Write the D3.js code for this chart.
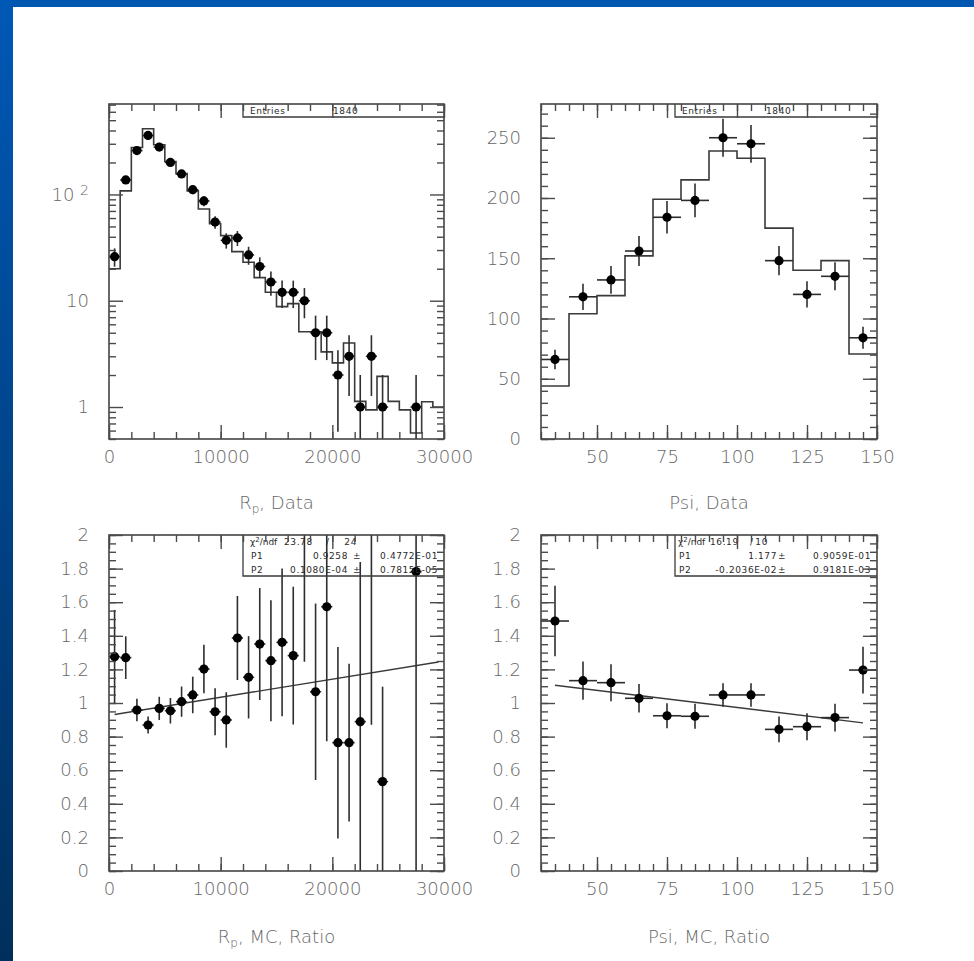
<!DOCTYPE html>
<html>
<head>
<meta charset="utf-8">
<script src="https://cdn.jsdelivr.net/npm/d3@7"></script>
<style>
  body { margin: 0; background: #fff; }
  svg { display: block; }
  .tick text { font-family: "DejaVu Sans", sans-serif; font-weight: 200; font-size: 18px; fill: #666; }
  .title { font-family: "DejaVu Sans", sans-serif; font-weight: 200; font-size: 18px; fill: #666; }
  .stat { font-family: "DejaVu Sans", sans-serif; font-size: 9px; fill: #2a2a2a; letter-spacing: 0.6px; }
</style>
</head>
<body>
<svg id="chart" width="974" height="961"></svg>
<script>
// ---- R_p, Data (bins of 1000 from 0 to 30000) ----
const rpCenters = [500, 1500, 2500, 3500, 4500, 5500, 6500, 7500, 8500, 9500, 10500, 11500, 12500,
                   13500, 14500, 15500, 16500, 17500, 18500, 19500, 20500, 21500, 22500, 23500, 24500, 27500];
const rpData = [26, 137, 259, 359, 279, 200, 156, 111, 87, 55, 37, 39, 27,
                21, 15, 12, 12, 10, 5, 5, 2, 3, 1, 3, 1, 1];
// MC histogram, one value per bin (30 bins)
const rpMC = [20, 108, 277, 415, 294, 204, 157, 108, 73, 53, 41, 29, 23, 16.5, 12,
              8.8, 9.4, 5.1, 5.1, 3.3, 2.6, 4.0, 1.13, 0.94, 1.94, 1.13, 0.94, 0.57, 1.12, 1.0];

// ---- R_p, MC, Ratio ----
const rpRatio = [1.276, 1.27, 0.958, 0.869, 0.968, 0.954, 1.008, 1.048, 1.202, 0.948, 0.899, 1.387, 1.153,
                 1.351, 1.252, 1.361, 1.282, 2.10, 1.067, 1.573, 0.764, 0.764, 0.889, 2.40, 0.532, 1.782];
const rpRatioErr = [0.278, 0.127, 0.067, 0.05, 0.069, 0.076, 0.09, 0.109, 0.144, 0.14, 0.165, 0.25, 0.245,
                    0.333, 0.36, 0.44, 0.41, 0.855, 0.525, 0.80, 0.57, 0.47, 0.95, 1.53, 0.565, 1.8];

// ---- Psi, Data (bins of 10 from 30 to 150) ----
const psiCenters = [35, 45, 55, 65, 75, 85, 95, 105, 115, 125, 135, 145];
const psiData = [66, 118, 132, 156, 184, 198, 250, 245, 148, 120, 135, 84];
const psiMC = [44, 104, 119, 152, 199, 215, 239, 233, 175, 140, 148, 70.5];

// ---- Psi, MC, Ratio ----
const psiRatio = [1.488, 1.133, 1.121, 1.028, 0.924, 0.921, 1.048, 1.048, 0.843, 0.859, 0.913, 1.196];
const psiRatioErr = [0.21, 0.114, 0.11, 0.085, 0.075, 0.075, 0.07, 0.07, 0.077, 0.08, 0.083, 0.139];

// fit results (straight line p1 + p2*x)
const rpFitRows = [["23.78", "24"], ["0.9258", "0.4772E-01"], ["0.1080E-04", "0.7815E-05"]];
const rpFitPars = [0.9258, 0.1080e-4];
const psiFitRows = [["16.19", "10"], ["1.177", "0.9059E-01"], ["-0.2036E-02", "0.9181E-03"]];
const psiFitPars = [1.177, -0.2036e-2];
const entries = "1840";

const svg = d3.select("#chart");
const defs = svg.append("defs");

// slide frame (blue bands)
const grad = defs.append("linearGradient").attr("id", "band")
    .attr("x1", 0).attr("y1", 0).attr("x2", 0).attr("y2", 1);
grad.append("stop").attr("offset", "0%").attr("stop-color", "#0058b6");
grad.append("stop").attr("offset", "100%").attr("stop-color", "#002f5c");
svg.append("rect").attr("x", 0).attr("y", 0).attr("width", 974).attr("height", 7).attr("fill", "#0057b0");
svg.append("rect").attr("x", 0).attr("y", 0).attr("width", 13).attr("height", 961).attr("fill", "url(#band)");

function addTicks(g, scale, orient, pos, values, size, fmt, pad) {
    const axisFn = {bottom: d3.axisBottom, top: d3.axisTop, left: d3.axisLeft, right: d3.axisRight}[orient];
    const ax = axisFn(scale).tickValues(values).tickSize(-size).tickPadding(pad || 0).tickFormat(fmt || (() => ""));
    const tr = (orient === "bottom" || orient === "top") ? `translate(0,${pos})` : `translate(${pos},0)`;
    const a = g.append("g").attr("transform", tr).attr("color", "#4a4a4a").call(ax);
    a.select(".domain").remove();
    a.selectAll("line").attr("stroke-width", 1.4);
    return a;
}

function drawPanel(p) {
    const b = p.box;
    const g = svg.append("g");
    const x = d3.scaleLinear().domain(p.xDomain).range([b.left, b.right]);
    const y = (p.log ? d3.scaleLog() : d3.scaleLinear()).domain(p.yDomain).range([b.bottom, b.top]);

    defs.append("clipPath").attr("id", "clip-" + p.id).append("rect")
        .attr("x", b.left).attr("y", b.top).attr("width", b.right - b.left).attr("height", b.bottom - b.top);
    const plot = g.append("g").attr("clip-path", `url(#clip-${p.id})`);

    // MC histogram outline
    if (p.hist) {
        const n = p.hist.values.length;
        const pts = p.hist.values.map((v, i) => [p.hist.edges[i], v]);
        pts.push([p.hist.edges[n], p.hist.values[n - 1]]);
        plot.append("path").datum(pts)
            .attr("d", d3.line().x(d => x(d[0])).y(d => y(d[1])).curve(d3.curveStepAfter))
            .attr("fill", "none").attr("stroke", "#3a3a3a").attr("stroke-width", 1.6);
    }

    // fitted line
    if (p.fit) {
        plot.append("path").datum(p.fit.range)
            .attr("d", d3.line().x(d => x(d)).y(d => y(p.fit.pars[0] + p.fit.pars[1] * d)))
            .attr("fill", "none").attr("stroke", "#3a3a3a").attr("stroke-width", 1.4);
    }

    // points with error bars
    const pts = p.points.x.map((c, i) => ({c, v: p.points.v[i], e: p.points.e[i]}));
    const ypos = v => (p.log && v <= p.yDomain[0]) ? b.bottom + 10 : y(v);
    plot.selectAll(".ey").data(pts).join("line")
        .attr("x1", d => x(d.c)).attr("x2", d => x(d.c))
        .attr("y1", d => ypos(d.v - d.e)).attr("y2", d => ypos(d.v + d.e))
        .attr("stroke", "#2e2e2e").attr("stroke-width", 1.6);
    plot.selectAll(".ex").data(pts).join("line")
        .attr("x1", d => x(d.c - p.halfWidth)).attr("x2", d => x(d.c + p.halfWidth))
        .attr("y1", d => y(d.v)).attr("y2", d => y(d.v))
        .attr("stroke", "#2e2e2e").attr("stroke-width", 1.6);
    plot.selectAll(".pt").data(pts).join("circle")
        .attr("cx", d => x(d.c)).attr("cy", d => y(d.v)).attr("r", 4.6).attr("fill", "#000");

    // statistics / fit box
    const s = p.stat;
    g.append("path").attr("d", `M${s.x0},${b.top} V${s.y1} H${b.right}`)
        .attr("fill", "none").attr("stroke", "#3a3a3a").attr("stroke-width", 1.3);
    if (s.entries) {
        g.append("text").attr("class", "stat").attr("x", s.x0 + 7).attr("y", b.top + 10).text("Entries");
        g.append("text").attr("class", "stat").attr("x", s.numX).attr("y", b.top + 10).text(s.entries);
    } else {
        const rows = s.rows;
        const by = [b.top + 9.5, b.top + 23.5, b.top + 38];
        const chi = g.append("text").attr("class", "stat").attr("x", s.x0 + s.labX).attr("y", by[0])
            .style("letter-spacing", "0px");
        chi.append("tspan").text("χ");
        chi.append("tspan").attr("dy", -3).style("font-size", "7px").text("2");
        chi.append("tspan").attr("dy", 3).text("/ndf");
        g.append("text").attr("class", "stat").attr("x", s.x0 + s.chiX).attr("y", by[0]).text(rows[0][0]);
        g.append("text").attr("class", "stat").attr("x", s.x0 + s.slashX).attr("y", by[0]).text("/");
        g.append("text").attr("class", "stat").attr("x", s.x0 + s.ndfX).attr("y", by[0]).attr("text-anchor", "end").text(rows[0][1]);
        ["P1", "P2"].forEach((lab, i) => {
            const yy = by[i + 1];
            g.append("text").attr("class", "stat").attr("x", s.x0 + s.labX + 1).attr("y", yy).text(lab);
            g.append("text").attr("class", "stat").attr("x", s.x0 + s.valX).attr("y", yy).attr("text-anchor", "end").text(rows[i + 1][0]);
            g.append("text").attr("class", "stat").attr("x", s.x0 + s.pmX).attr("y", yy).attr("text-anchor", "middle").text("±");
            g.append("text").attr("class", "stat").attr("x", b.right - 6).attr("y", yy)
                .attr("text-anchor", "end").text(rows[i + 1][1]);
        });
    }

    // frame
    g.append("rect").attr("x", b.left).attr("y", b.top).attr("width", b.right - b.left).attr("height", b.bottom - b.top)
        .attr("fill", "none").attr("stroke", "#444").attr("stroke-width", 1.6);

    // ticks on all four sides, pointing inwards
    addTicks(g, x, "bottom", b.bottom, p.xMinor, 7);
    addTicks(g, x, "bottom", b.bottom, p.xMajor, 14, p.xFormat, 11);
    addTicks(g, x, "top", b.top, p.xMinor, 7);
    addTicks(g, x, "top", b.top, p.xMajor, 14);
    addTicks(g, y, "left", b.left, p.yMinor, 7);
    const yl = addTicks(g, y, "left", b.left, p.yMajor, 14, p.yFormat, 20);
    addTicks(g, y, "right", b.right, p.yMinor, 7);
    addTicks(g, y, "right", b.right, p.yMajor, 14);
    if (p.log) {
        yl.selectAll("text").filter(d => d === 100).each(function () {
            const t = d3.select(this).text("10 ");
            t.append("tspan").attr("dy", "-0.4em").style("font-size", "14px").text("2");
        });
    }

    // axis title
    const tt = g.append("text").attr("class", "title").attr("x", (b.left + b.right) / 2).attr("y", p.titleY)
        .attr("text-anchor", "middle");
    p.title.forEach(part => {
        if (part.sub) tt.append("tspan").attr("dy", 4).style("font-size", "12px").text(part.sub);
        else tt.append("tspan").attr("dy", part.after ? -4 : 0).text(part.t);
    });
}

const rpEdges = d3.range(0, 30001, 1000);
const psiEdges = d3.range(30, 151, 10);
const rpMajor = [0, 10000, 20000, 30000];
const rpMinor = d3.range(0, 30001, 2000);
const psiMajor = [50, 75, 100, 125, 150];
const psiMinor = d3.range(30, 151, 5);
const logMinor = [];
[0.1, 1, 10, 100].forEach(dec => d3.range(1, 10).forEach(k => {
    const v = dec * k;
    if (v >= 0.5 && v <= 700 && k !== 1) logMinor.push(v);
}));
const ratioMajor = d3.range(0, 11).map(i => i * 0.2);
const ratioMinor = d3.range(0, 41).map(i => i * 0.05);
const ratioFmt = d => String(Math.round(d * 10) / 10);

drawPanel({
    id: "tl", box: {left: 109, right: 444, top: 104, bottom: 439},
    xDomain: [0, 30000], yDomain: [0.5, 710], log: true,
    hist: {edges: rpEdges, values: rpMC},
    points: {x: rpCenters, v: rpData, e: rpData.map(Math.sqrt)}, halfWidth: 500,
    xMajor: rpMajor, xMinor: rpMinor, xFormat: d3.format("d"),
    yMajor: [1, 10, 100], yMinor: logMinor, yFormat: d => String(d),
    stat: {x0: 243, y1: 117, entries: entries, numX: 333},
    title: [{t: "R"}, {sub: "p"}, {t: ", Data", after: true}], titleY: 509
});

drawPanel({
    id: "tr", box: {left: 541, right: 877, top: 104, bottom: 439},
    xDomain: [30, 150], yDomain: [0, 278],
    hist: {edges: psiEdges, values: psiMC},
    points: {x: psiCenters, v: psiData, e: psiData.map(Math.sqrt)}, halfWidth: 5,
    xMajor: psiMajor, xMinor: psiMinor, xFormat: d3.format("d"),
    yMajor: d3.range(0, 251, 50), yMinor: d3.range(0, 271, 10), yFormat: d3.format("d"),
    stat: {x0: 675, y1: 117, entries: entries, numX: 766},
    title: [{t: "Psi, Data"}], titleY: 509
});

drawPanel({
    id: "bl", box: {left: 109, right: 444, top: 535, bottom: 871},
    xDomain: [0, 30000], yDomain: [0, 2],
    fit: {pars: rpFitPars, range: [500, 29500]},
    points: {x: rpCenters, v: rpRatio, e: rpRatioErr}, halfWidth: 500,
    xMajor: rpMajor, xMinor: rpMinor, xFormat: d3.format("d"),
    yMajor: ratioMajor, yMinor: ratioMinor, yFormat: ratioFmt,
    stat: {x0: 243, y1: 576, rows: rpFitRows, labX: 7, chiX: 41, slashX: 83, ndfX: 114, valX: 105, pmX: 114},
    title: [{t: "R"}, {sub: "p"}, {t: ", MC, Ratio", after: true}], titleY: 943
});

drawPanel({
    id: "br", box: {left: 541, right: 877, top: 535, bottom: 871},
    xDomain: [30, 150], yDomain: [0, 2],
    fit: {pars: psiFitPars, range: [35, 145]},
    points: {x: psiCenters, v: psiRatio, e: psiRatioErr}, halfWidth: 5,
    xMajor: psiMajor, xMinor: psiMinor, xFormat: d3.format("d"),
    yMajor: ratioMajor, yMinor: ratioMinor, yFormat: ratioFmt,
    stat: {x0: 675, y1: 576, rows: psiFitRows, labX: 3, chiX: 35, slashX: 75, ndfX: 93, valX: 102, pmX: 107},
    title: [{t: "Psi, MC, Ratio"}], titleY: 943
});
</script>
</body>
</html>
